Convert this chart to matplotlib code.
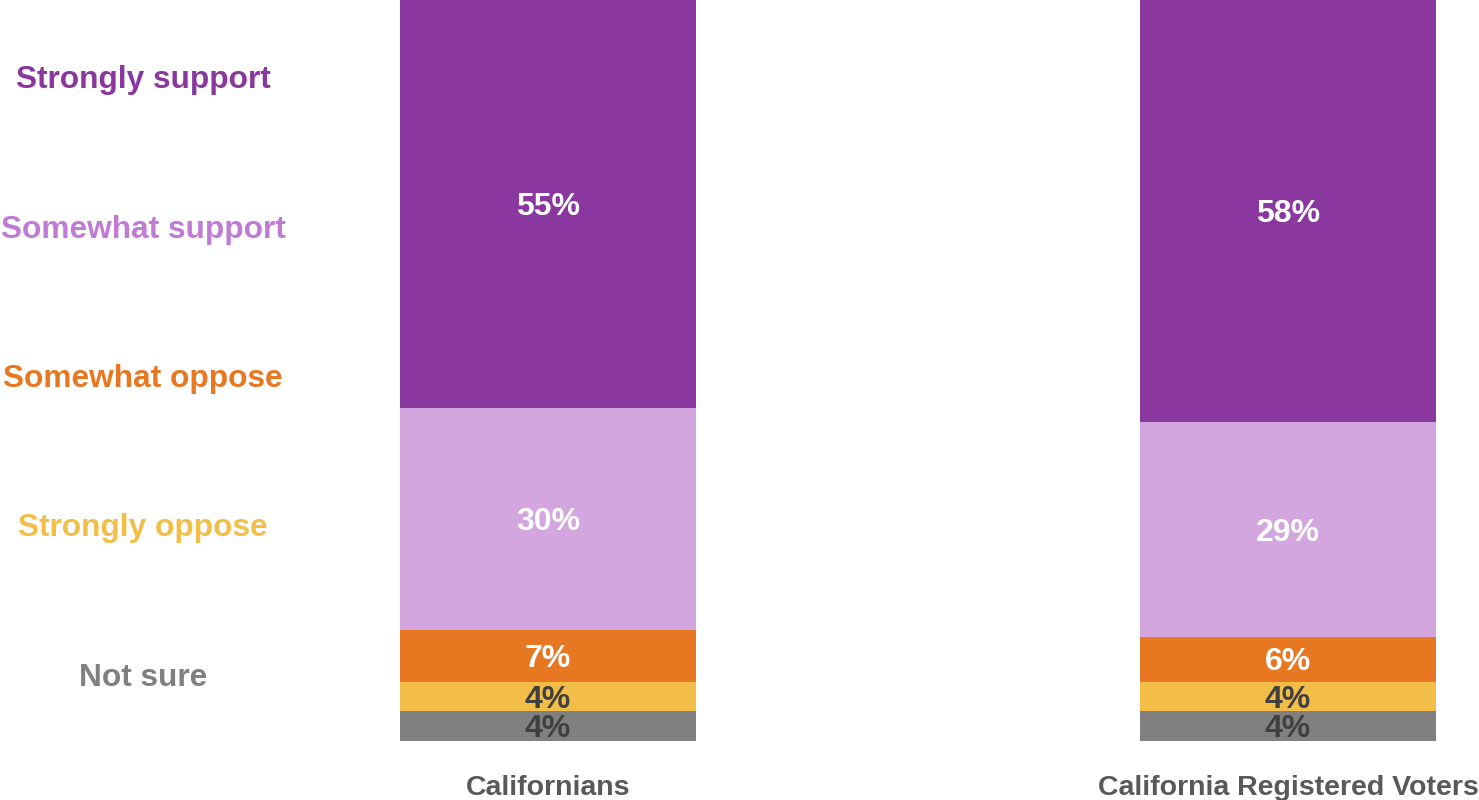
import numpy as np
import matplotlib
matplotlib.use("Agg")
import matplotlib.pyplot as plt

plt.rcParams['font.family'] = ['Liberation Sans', 'DejaVu Sans']

groups = ['Californians', 'California Registered Voters']
responses = ['Not sure', 'Strongly oppose', 'Somewhat oppose', 'Somewhat support', 'Strongly support']
values = {
    'Not sure':         [4, 4],
    'Strongly oppose':  [4, 4],
    'Somewhat oppose':  [7, 6],
    'Somewhat support': [30, 29],
    'Strongly support': [55, 58],
}

bar_colors = {
    'Not sure': '#808080',
    'Strongly oppose': '#F2BE48',
    'Somewhat oppose': '#E87722',
    'Somewhat support': '#D4A6E0',
    'Strongly support': '#8A379F',
}
text_colors = {
    'Not sure': '#808080',
    'Strongly oppose': '#F2BE48',
    'Somewhat oppose': '#E87722',
    'Somewhat support': '#C07BD4',
    'Strongly support': '#8A379F',
}
label_colors = {
    'Not sure': '#404040',
    'Strongly oppose': '#404040',
    'Somewhat oppose': 'white',
    'Somewhat support': 'white',
    'Strongly support': 'white',
}

YMAX = 100

fig = plt.figure(figsize=(14.79, 8), dpi=100)
ax = fig.add_axes([0, 59 / 800, 1, 741 / 800])

x = np.arange(len(groups))
bottom = np.zeros(len(groups))
for r in responses:
    v = np.array(values[r], dtype=float)
    ax.bar(x, v, width=0.4, bottom=bottom, color=bar_colors[r], edgecolor='none')
    for xi, b, vi in zip(x, bottom, v):
        # centre the label on the visible part of the segment
        ymid = (b + min(b + vi, YMAX)) / 2 - 0.4
        ax.text(xi, ymid, f'{int(vi)}%', ha='center', va='center',
                fontsize=23, fontweight='bold', color=label_colors[r])
    bottom += v

ax.set_xlim(-548 / 740, (1479 - 548) / 740)
ax.set_ylim(0, YMAX)
ax.axis('off')

# category names under the bars
for xi, g in zip(x, groups):
    ax.text(xi, -6.4, g, ha='center', va='center', fontsize=20.5,
            fontweight='bold', color='#595959', clip_on=False)

# coloured legend down the left side
legend_y = [678, 528, 379, 230, 80]
for r, py in zip(responses, legend_y):
    fig.text(143 / 1479, 1 - py / 800, r, ha='center', va='center',
             fontsize=22.8, fontweight='bold', color=text_colors[r])

fig.savefig('out.png', dpi=100)
